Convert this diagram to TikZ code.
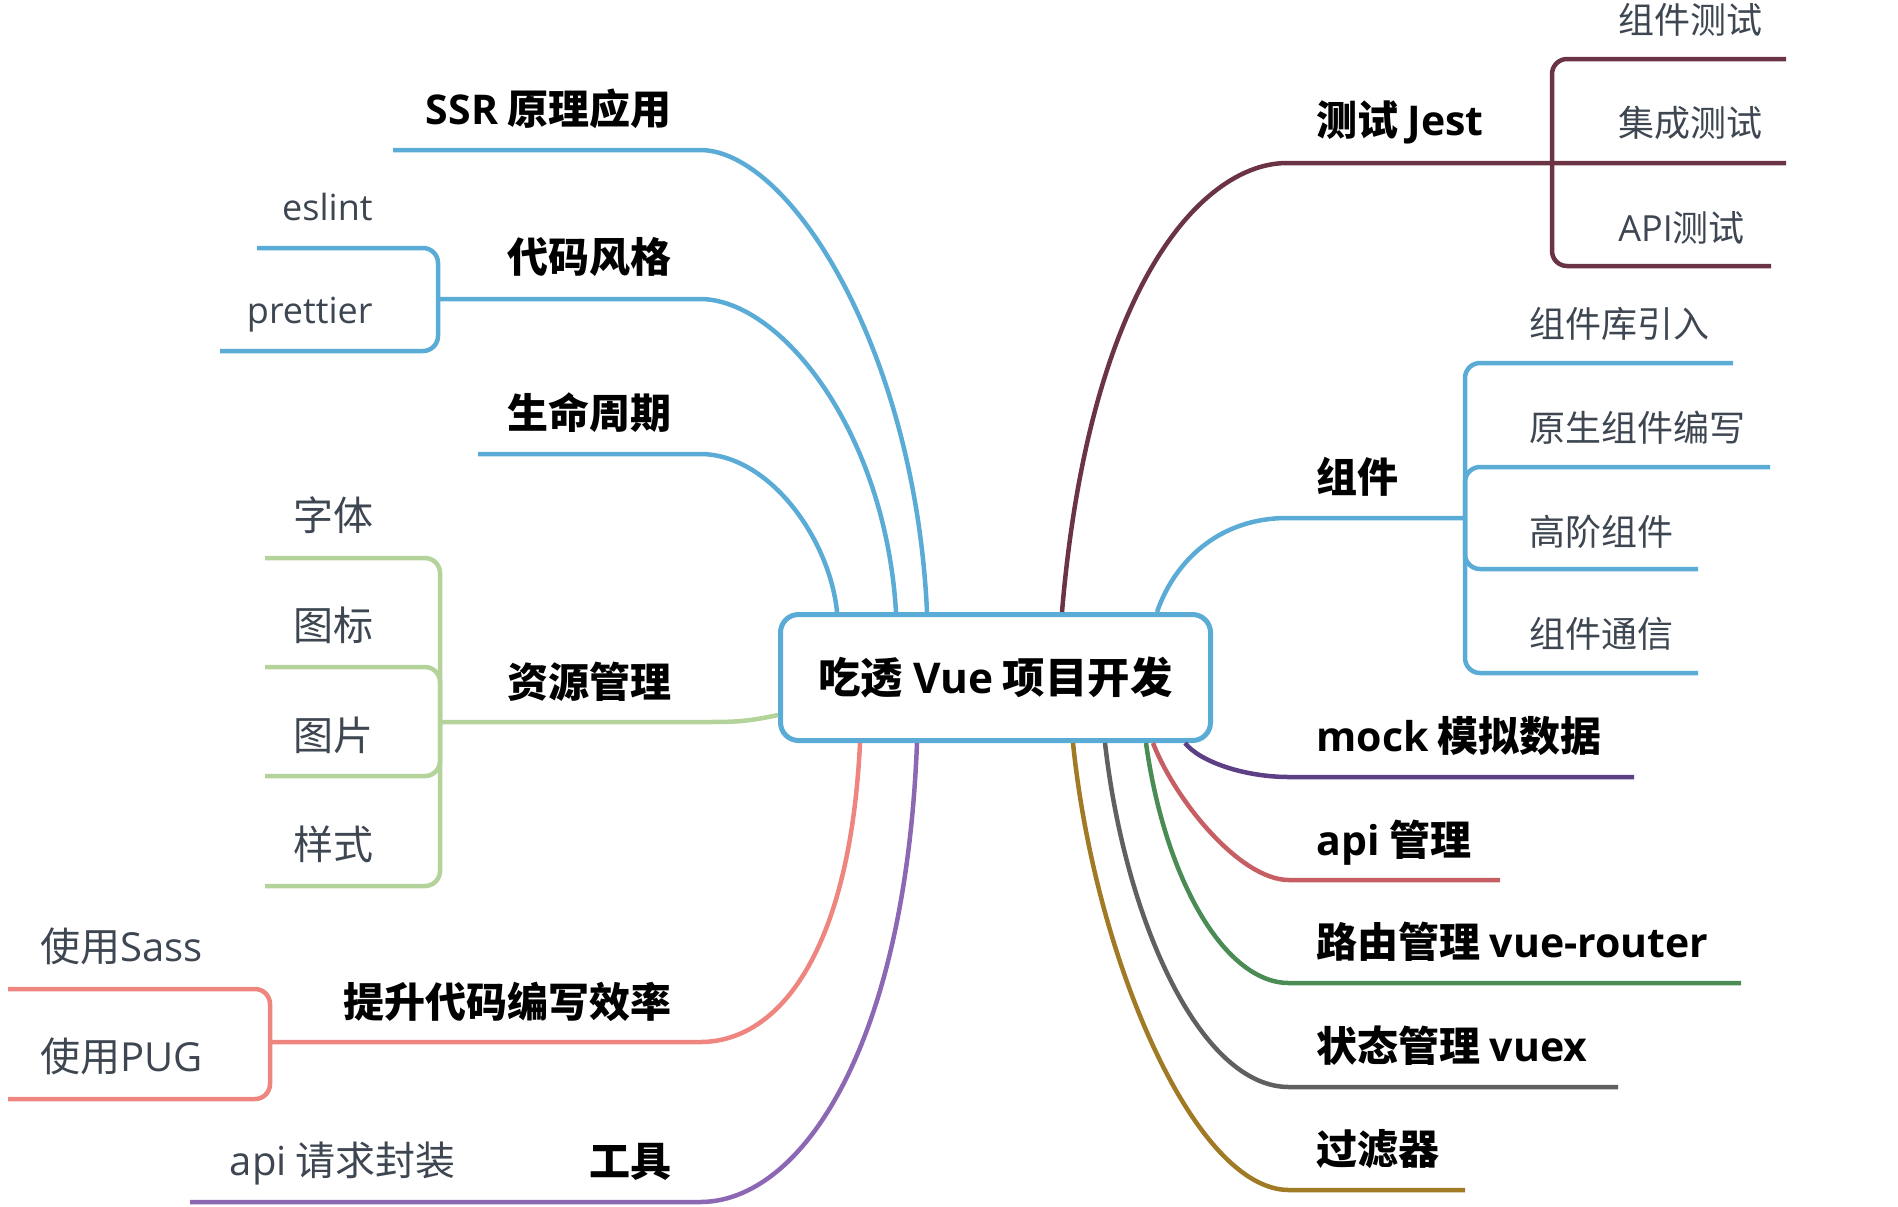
\documentclass[tikz,border=0pt]{standalone}
\usepackage{fontspec}
\setmainfont{Noto Sans CJK SC}
\newfontfamily\enfont{Open Sans}
\usetikzlibrary{positioning}

\definecolor{blu}{HTML}{5AACD6}
\definecolor{verde}{HTML}{B4D39A}
\definecolor{salmone}{HTML}{EE857F}
\definecolor{viola}{HTML}{8C67B3}
\definecolor{bordeaux}{HTML}{6B3445}
\definecolor{violascuro}{HTML}{5C3F85}
\definecolor{rosso}{HTML}{C65F63}
\definecolor{verdescuro}{HTML}{4B8C55}
\definecolor{grigio}{HTML}{606062}
\definecolor{ocra}{HTML}{A07A24}
\definecolor{testo}{HTML}{3D4651}

\tikzset{
  ramo/.style={line width=2.25pt},
  parentesi/.style={line width=2.25pt, rounded corners=7.5pt},
  capo/.style={font=\bfseries\fontsize{20.5}{24}\selectfont, text=black, inner sep=0pt},
  foglia/.style={font=\fontsize{18}{22}\selectfont, text=testo, inner sep=0pt},
  fogliona/.style={font=\fontsize{20}{24}\selectfont, text=testo, inner sep=0pt},
}

\begin{document}
\begin{tikzpicture}[x=0.5pt, y=-0.5pt]
  \useasboundingbox (0,0) rectangle (1898,1206);

  % Nodo centrale
  \node[draw=blu, line width=2.5pt, rounded corners=9pt, fill=white,
        minimum width=215pt, minimum height=63pt,
        font=\bfseries\fontsize{21.2}{26}\selectfont] (root) at (995.5,677.5) {吃透 {\enfont Vue} 项目开发};

  % Rami a sinistra
  \coordinate (ssr0) at (927,612);
  \coordinate (ssr1) at (700,150);
  \coordinate (ssr2) at (393,150);
  \draw[ramo, blu] (ssr0) .. controls (915,350) and (790,150) .. (ssr1) -- (ssr2);
  \node[capo, anchor=base east] (ssr) at (672,124) {{\enfont SSR} 原理应用};

  \coordinate (stile0) at (896,612);
  \coordinate (stile1) at (700,299);
  \coordinate (stileJ) at (438,299);
  \coordinate (eslintL) at (257,248);
  \coordinate (prettierL) at (220,351);
  \draw[ramo, blu] (stile0) .. controls (885,430) and (780,299) .. (stile1) -- (stileJ);
  \draw[parentesi, blu] (stileJ) |- (eslintL);
  \draw[parentesi, blu] (stileJ) |- (prettierL);
  \node[capo, anchor=base east] (stile) at (672,272) {代码风格};
  \node[foglia, anchor=base east] (eslint) at (373,220) {\enfont eslint};
  \node[foglia, anchor=base east] (prettier) at (373,323) {\enfont prettier};

  \coordinate (ciclo0) at (837,612);
  \coordinate (ciclo1) at (700,454);
  \coordinate (ciclo2) at (478,454);
  \draw[ramo, blu] (ciclo0) .. controls (830,540) and (770,454) .. (ciclo1) -- (ciclo2);
  \node[capo, anchor=base east] (ciclo) at (672,428) {生命周期};

  \coordinate (risorse0) at (778,715);
  \coordinate (risorse1) at (700,722);
  \coordinate (risorseJ) at (440,722);
  \draw[ramo, verde] (risorse0) .. controls (745,722) and (735,722) .. (risorse1) -- (risorseJ);
  \draw[parentesi, verde] (risorseJ) |- (265,558);
  \draw[parentesi, verde] (risorseJ) |- (265,667);
  \draw[parentesi, verde] (risorseJ) |- (265,776);
  \draw[parentesi, verde] (risorseJ) |- (265,886);
  \node[capo, anchor=base east] (risorse) at (672,697) {资源管理};
  \node[fogliona, anchor=base east] (caratteri) at (374,530) {字体};
  \node[fogliona, anchor=base east] (icone) at (374,640) {图标};
  \node[fogliona, anchor=base east] (immagini) at (374,750) {图片};
  \node[fogliona, anchor=base east] (stili) at (374,859) {样式};

  \coordinate (effi0) at (860,743);
  \coordinate (effi1) at (700,1042);
  \coordinate (effiJ) at (270,1042);
  \draw[ramo, salmone] (effi0) .. controls (850,950) and (780,1042) .. (effi1) -- (effiJ);
  \draw[parentesi, salmone] (effiJ) |- (8,989);
  \draw[parentesi, salmone] (effiJ) |- (8,1099);
  \node[capo, anchor=base east] (effi) at (672,1017) {提升代码编写效率};
  \node[fogliona, anchor=base east] (sass) at (203,961) {使用{\enfont Sass}};
  \node[fogliona, anchor=base east] (pug) at (203,1071) {使用{\enfont PUG}};

  \coordinate (tool0) at (917,743);
  \coordinate (tool1) at (700,1202);
  \coordinate (tool2) at (190,1202);
  \draw[ramo, viola] (tool0) .. controls (905,1050) and (800,1202) .. (tool1) -- (tool2);
  \node[capo, anchor=base east] (tool) at (672,1176) {工具};
  \node[fogliona, anchor=base east] (apireq) at (456,1175) {{\enfont api} 请求封装};

  % Rami a destra
  \coordinate (jest0) at (1062,612);
  \coordinate (jest1) at (1287,163);
  \coordinate (jestJ) at (1552,163);
  \draw[ramo, bordeaux] (jest0) .. controls (1090,280) and (1205,163) .. (jest1) -- (jestJ) -- (1786,163);
  \draw[parentesi, bordeaux] (jestJ) |- (1786,59);
  \draw[parentesi, bordeaux] (jestJ) |- (1771,266);
  \node[capo, anchor=base west] (jest) at (1316,135) {测试 {\enfont Jest}};
  \node[foglia, anchor=base west] (unit) at (1618,33) {组件测试};
  \node[foglia, anchor=base west] (integr) at (1618,136) {集成测试};
  \node[foglia, anchor=base west] (apitest) at (1618,241) {{\enfont API}测试};

  \coordinate (comp0) at (1157,612);
  \coordinate (comp1) at (1287,518);
  \coordinate (compJ) at (1465,518);
  \draw[ramo, blu] (comp0) .. controls (1175,560) and (1220,518) .. (comp1) -- (compJ);
  \draw[parentesi, blu] (compJ) |- (1733,363);
  \draw[parentesi, blu] (compJ) |- (1770,467);
  \draw[parentesi, blu] (compJ) |- (1698,569);
  \draw[parentesi, blu] (compJ) |- (1698,673);
  \node[capo, anchor=base west] (comp) at (1316,492) {组件};
  \node[foglia, anchor=base west] (libreria) at (1529,337) {组件库引入};
  \node[foglia, anchor=base west] (nativo) at (1529,441) {原生组件编写};
  \node[foglia, anchor=base west] (hoc) at (1529,545) {高阶组件};
  \node[foglia, anchor=base west] (comunic) at (1529,647) {组件通信};

  \coordinate (mock0) at (1185,743);
  \coordinate (mock1) at (1289,777);
  \draw[ramo, violascuro] (mock0) .. controls (1200,762) and (1245,777) .. (mock1) -- (1634,777);
  \node[capo, anchor=base west] (mock) at (1316,751) {{\enfont mock} 模拟数据};

  \coordinate (api0) at (1153,743);
  \coordinate (api1) at (1289,880);
  \draw[ramo, rosso] (api0) .. controls (1175,800) and (1240,880) .. (api1) -- (1500,880);
  \node[capo, anchor=base west] (api) at (1316,855) {{\enfont api} 管理};

  \coordinate (router0) at (1146,743);
  \coordinate (router1) at (1289,983);
  \draw[ramo, verdescuro] (router0) .. controls (1165,880) and (1225,983) .. (router1) -- (1741,983);
  \node[capo, anchor=base west] (router) at (1316,957) {路由管理 {\enfont vue-router}};

  \coordinate (vuex0) at (1105,743);
  \coordinate (vuex1) at (1289,1087);
  \draw[ramo, grigio] (vuex0) .. controls (1125,920) and (1200,1087) .. (vuex1) -- (1618,1087);
  \node[capo, anchor=base west] (vuex) at (1316,1061) {状态管理 {\enfont vuex}};

  \coordinate (filtri0) at (1073,743);
  \coordinate (filtri1) at (1289,1190);
  \draw[ramo, ocra] (filtri0) .. controls (1095,960) and (1195,1190) .. (filtri1) -- (1465,1190);
  \node[capo, anchor=base west] (filtri) at (1316,1164) {过滤器};
\end{tikzpicture}
\end{document}
